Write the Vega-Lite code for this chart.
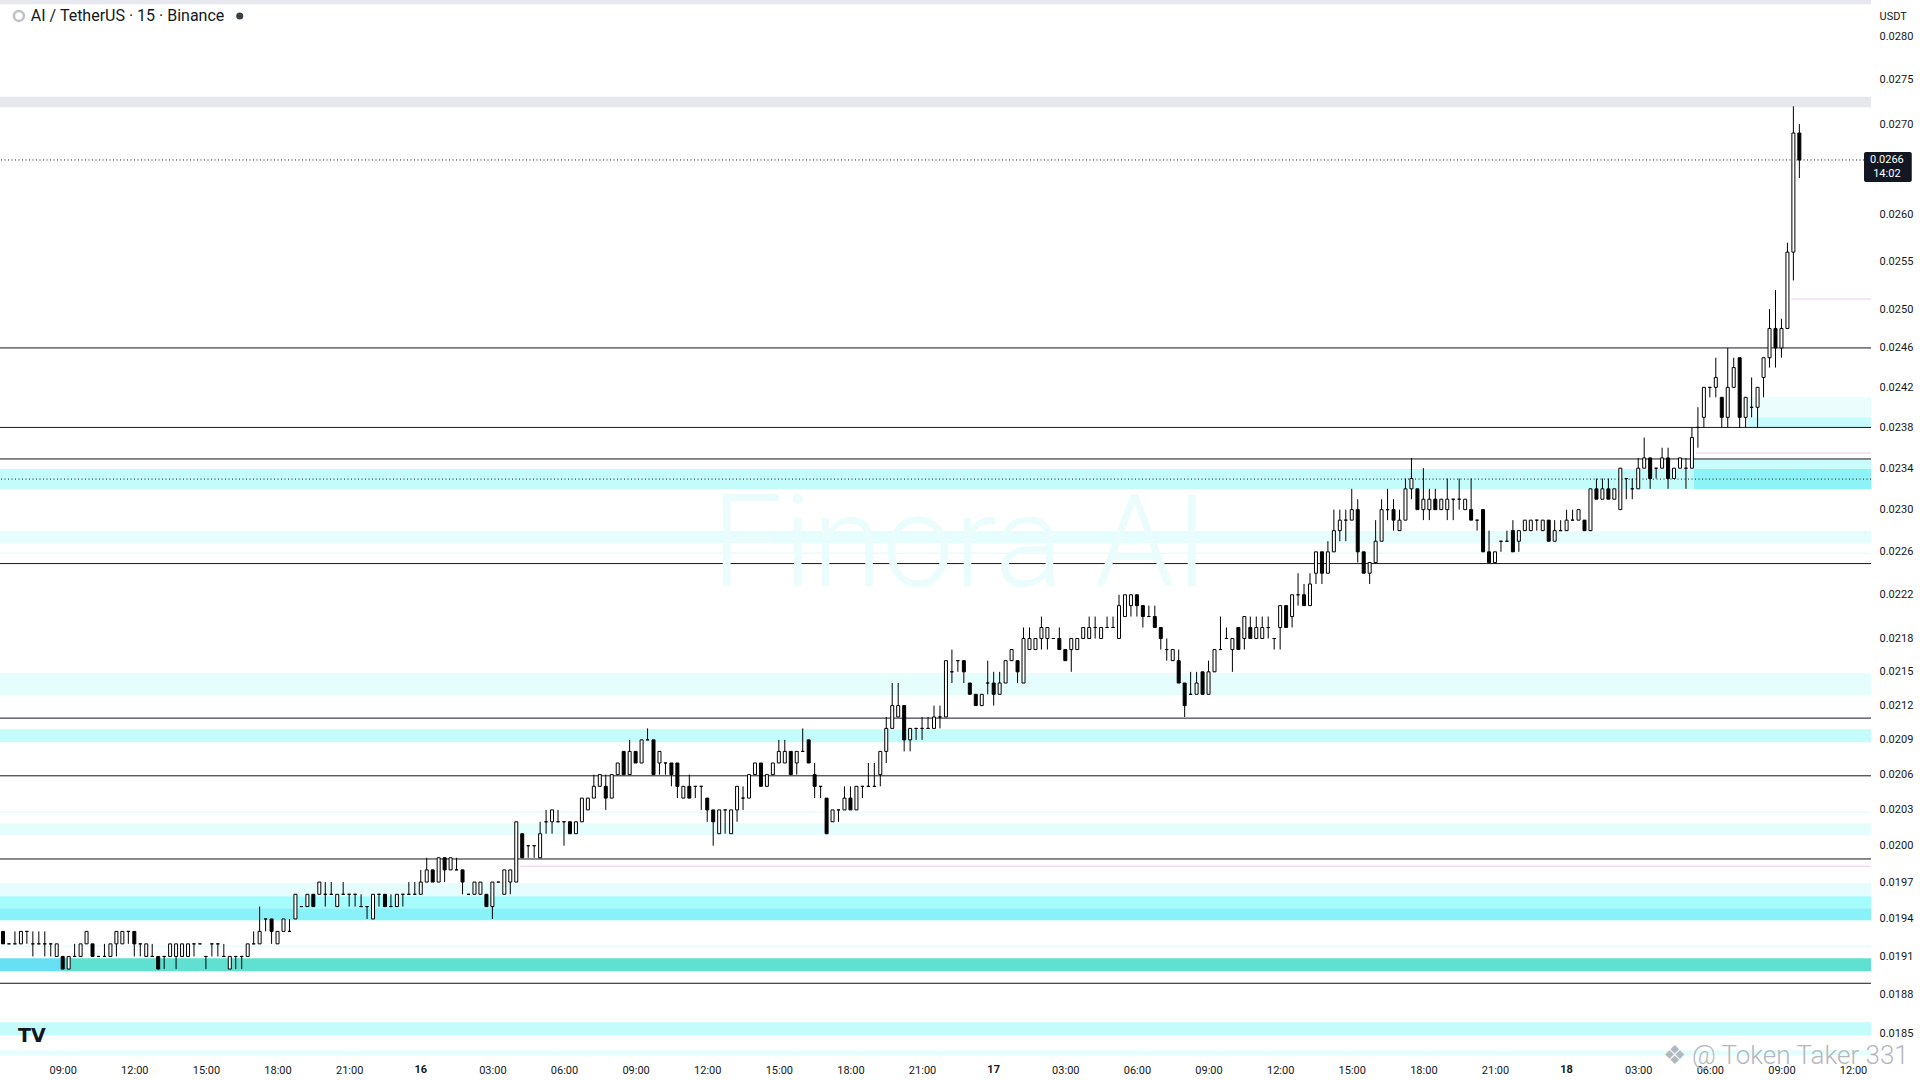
{
  "$schema": "https://vega.github.io/schema/vega-lite/v6.json",
  "width": 1871,
  "height": 1058,
  "autosize": {"type": "none"},
  "padding": {"left": 0, "top": 0, "right": 49, "bottom": 22},
  "background": "#ffffff",
  "config": {
    "view": {"stroke": null},
    "font": "Roboto",
    "axis": {"labelFont": "Roboto", "labelFontSize": 11, "labelColor": "#131722", "ticks": false, "domain": false, "grid": false}
  },
  "datasets": {
    "bands": [
      {"p1": 0.02838, "p2": 0.02843, "col": "#e7e8ed"},
      {"p1": 0.02719, "p2": 0.02731, "col": "#e7e8ed"},
      {"p1": 0.023198, "p2": 0.023392, "col": "#c4fcfc"},
      {"p1": 0.022682, "p2": 0.022796, "col": "#e6fdfd"},
      {"p1": 0.021292, "p2": 0.021488, "col": "#e6fdfd"},
      {"p1": 0.02088, "p2": 0.020993, "col": "#c4fcfc"},
      {"p1": 0.020088, "p2": 0.020188, "col": "#e6fdfd"},
      {"p1": 0.019585, "p2": 0.019691, "col": "#e6fdfd"},
      {"p1": 0.019487, "p2": 0.019585, "col": "#a6fcfc"},
      {"p1": 0.01939, "p2": 0.019487, "col": "#88f2f8"},
      {"p1": 0.018484, "p2": 0.018584, "col": "#c4fcfc"},
      {"p1": 0.018331, "p2": 0.018369, "col": "#e6fdfd"}
    ],
    "zones": [
      {"t1": "2025-06-15T00:00", "t2": "2025-06-15T08:57", "p1": 0.018983, "p2": 0.019086, "col": "#66e0f2"},
      {"t1": "2025-06-15T08:57", "t2": "2025-06-19T00:00", "p1": 0.018983, "p2": 0.019086, "col": "#5fe0d0"},
      {"t1": "2025-06-18T05:20", "t2": "2025-06-19T00:00", "p1": 0.023392, "p2": 0.02349, "col": "#cafcfc"},
      {"t1": "2025-06-18T05:20", "t2": "2025-06-19T00:00", "p1": 0.023198, "p2": 0.023392, "col": "#8ef3f6"},
      {"t1": "2025-06-18T07:35", "t2": "2025-06-19T00:00", "p1": 0.0238, "p2": 0.0239, "col": "#c8fcfc"},
      {"t1": "2025-06-18T07:35", "t2": "2025-06-19T00:00", "p1": 0.0239, "p2": 0.0241, "col": "#ebfdfd"}
    ],
    "faint": [
      {"p": 0.022588},
      {"p": 0.020281},
      {"p": 0.019182}
    ],
    "pink": [
      {"t1": "2025-06-16T04:10", "t2": "2025-06-19T00:00", "p": 0.01983},
      {"t1": "2025-06-18T05:25", "t2": "2025-06-19T00:00", "p": 0.023548},
      {"t1": "2025-06-18T09:25", "t2": "2025-06-19T00:00", "p": 0.025106}
    ],
    "levels": [
      {"p": 0.0246},
      {"p": 0.0238},
      {"p": 0.02349},
      {"p": 0.02249},
      {"p": 0.02109},
      {"p": 0.02059},
      {"p": 0.01989},
      {"p": 0.018888}
    ],
    "dotted": [
      {"p": 0.023294},
      {"p": 0.0266}
    ],
    "days": [
      {"t": "2025-06-16T00:00", "p": 0.01831, "lab": "16"},
      {"t": "2025-06-17T00:00", "p": 0.01831, "lab": "17"},
      {"t": "2025-06-18T00:00", "p": 0.01831, "lab": "18"}
    ],
    "candles": [
      {"t":"2025-06-15T06:30","o":0.0193,"h":0.0193,"l":0.0192,"c":0.0192},
      {"t":"2025-06-15T06:45","o":0.0192,"h":0.0192,"l":0.0192,"c":0.0192},
      {"t":"2025-06-15T07:00","o":0.0192,"h":0.0193,"l":0.0192,"c":0.0192},
      {"t":"2025-06-15T07:15","o":0.0192,"h":0.0193,"l":0.0192,"c":0.0193},
      {"t":"2025-06-15T07:30","o":0.0193,"h":0.0193,"l":0.0192,"c":0.0193},
      {"t":"2025-06-15T07:45","o":0.0192,"h":0.0193,"l":0.0191,"c":0.0192},
      {"t":"2025-06-15T08:00","o":0.0192,"h":0.0193,"l":0.0192,"c":0.0192},
      {"t":"2025-06-15T08:15","o":0.0192,"h":0.0193,"l":0.0191,"c":0.0192},
      {"t":"2025-06-15T08:30","o":0.0192,"h":0.0192,"l":0.0191,"c":0.0192},
      {"t":"2025-06-15T08:45","o":0.0191,"h":0.0192,"l":0.0191,"c":0.0192},
      {"t":"2025-06-15T09:00","o":0.0191,"h":0.0191,"l":0.0190,"c":0.0190},
      {"t":"2025-06-15T09:15","o":0.0190,"h":0.0191,"l":0.0190,"c":0.0191},
      {"t":"2025-06-15T09:30","o":0.0191,"h":0.0192,"l":0.0191,"c":0.0191},
      {"t":"2025-06-15T09:45","o":0.0191,"h":0.0192,"l":0.0191,"c":0.0192},
      {"t":"2025-06-15T10:00","o":0.0192,"h":0.0193,"l":0.0192,"c":0.0193},
      {"t":"2025-06-15T10:15","o":0.0192,"h":0.0192,"l":0.0191,"c":0.0191},
      {"t":"2025-06-15T10:30","o":0.0191,"h":0.0191,"l":0.0191,"c":0.0191},
      {"t":"2025-06-15T10:45","o":0.0191,"h":0.0192,"l":0.0191,"c":0.0191},
      {"t":"2025-06-15T11:00","o":0.0191,"h":0.0192,"l":0.0191,"c":0.0192},
      {"t":"2025-06-15T11:15","o":0.0192,"h":0.0193,"l":0.0191,"c":0.0193},
      {"t":"2025-06-15T11:30","o":0.0192,"h":0.0193,"l":0.0192,"c":0.0193},
      {"t":"2025-06-15T11:45","o":0.0193,"h":0.0193,"l":0.0192,"c":0.0193},
      {"t":"2025-06-15T12:00","o":0.0193,"h":0.0193,"l":0.0191,"c":0.0192},
      {"t":"2025-06-15T12:15","o":0.0192,"h":0.0192,"l":0.0191,"c":0.0192},
      {"t":"2025-06-15T12:30","o":0.0191,"h":0.0192,"l":0.0191,"c":0.0192},
      {"t":"2025-06-15T12:45","o":0.0191,"h":0.0192,"l":0.0191,"c":0.0191},
      {"t":"2025-06-15T13:00","o":0.0191,"h":0.0191,"l":0.0190,"c":0.0190},
      {"t":"2025-06-15T13:15","o":0.0191,"h":0.0191,"l":0.0190,"c":0.0191},
      {"t":"2025-06-15T13:30","o":0.0191,"h":0.0192,"l":0.0191,"c":0.0192},
      {"t":"2025-06-15T13:45","o":0.0191,"h":0.0192,"l":0.0190,"c":0.0192},
      {"t":"2025-06-15T14:00","o":0.0191,"h":0.0192,"l":0.0191,"c":0.0192},
      {"t":"2025-06-15T14:15","o":0.0191,"h":0.0192,"l":0.0191,"c":0.0192},
      {"t":"2025-06-15T14:30","o":0.0192,"h":0.0192,"l":0.0191,"c":0.0192},
      {"t":"2025-06-15T14:45","o":0.0192,"h":0.0192,"l":0.0192,"c":0.0192},
      {"t":"2025-06-15T15:00","o":0.0191,"h":0.0191,"l":0.0190,"c":0.0191},
      {"t":"2025-06-15T15:15","o":0.0192,"h":0.0192,"l":0.0191,"c":0.0192},
      {"t":"2025-06-15T15:30","o":0.0192,"h":0.0192,"l":0.0191,"c":0.0192},
      {"t":"2025-06-15T15:45","o":0.0191,"h":0.0192,"l":0.0191,"c":0.0191},
      {"t":"2025-06-15T16:00","o":0.0190,"h":0.0191,"l":0.0190,"c":0.0191},
      {"t":"2025-06-15T16:15","o":0.0191,"h":0.0191,"l":0.0190,"c":0.0191},
      {"t":"2025-06-15T16:30","o":0.0191,"h":0.0191,"l":0.0190,"c":0.0191},
      {"t":"2025-06-15T16:45","o":0.0191,"h":0.0192,"l":0.0191,"c":0.0192},
      {"t":"2025-06-15T17:00","o":0.0192,"h":0.0193,"l":0.0192,"c":0.0192},
      {"t":"2025-06-15T17:15","o":0.0192,"h":0.0195,"l":0.0192,"c":0.0193},
      {"t":"2025-06-15T17:30","o":0.0194,"h":0.0194,"l":0.0193,"c":0.0194},
      {"t":"2025-06-15T17:45","o":0.0194,"h":0.0194,"l":0.0192,"c":0.0193},
      {"t":"2025-06-15T18:00","o":0.0192,"h":0.0193,"l":0.0192,"c":0.0193},
      {"t":"2025-06-15T18:15","o":0.0193,"h":0.0194,"l":0.0193,"c":0.0194},
      {"t":"2025-06-15T18:30","o":0.0193,"h":0.0194,"l":0.0193,"c":0.0193},
      {"t":"2025-06-15T18:45","o":0.0194,"h":0.0196,"l":0.0194,"c":0.0196},
      {"t":"2025-06-15T19:00","o":0.0195,"h":0.0195,"l":0.0195,"c":0.0195},
      {"t":"2025-06-15T19:15","o":0.0195,"h":0.0196,"l":0.0195,"c":0.0196},
      {"t":"2025-06-15T19:30","o":0.0196,"h":0.0196,"l":0.0195,"c":0.0195},
      {"t":"2025-06-15T19:45","o":0.0196,"h":0.0197,"l":0.0196,"c":0.0197},
      {"t":"2025-06-15T20:00","o":0.0196,"h":0.0197,"l":0.0195,"c":0.0196},
      {"t":"2025-06-15T20:15","o":0.0196,"h":0.0197,"l":0.0196,"c":0.0196},
      {"t":"2025-06-15T20:30","o":0.0195,"h":0.0196,"l":0.0195,"c":0.0196},
      {"t":"2025-06-15T20:45","o":0.0196,"h":0.0197,"l":0.0196,"c":0.0196},
      {"t":"2025-06-15T21:00","o":0.0196,"h":0.0196,"l":0.0195,"c":0.0196},
      {"t":"2025-06-15T21:15","o":0.0196,"h":0.0196,"l":0.0195,"c":0.0196},
      {"t":"2025-06-15T21:30","o":0.0195,"h":0.0196,"l":0.0195,"c":0.0195},
      {"t":"2025-06-15T21:45","o":0.0195,"h":0.0195,"l":0.0194,"c":0.0195},
      {"t":"2025-06-15T22:00","o":0.0194,"h":0.0196,"l":0.0194,"c":0.0196},
      {"t":"2025-06-15T22:15","o":0.0196,"h":0.0196,"l":0.0195,"c":0.0196},
      {"t":"2025-06-15T22:30","o":0.0196,"h":0.0196,"l":0.0195,"c":0.0195},
      {"t":"2025-06-15T22:45","o":0.0195,"h":0.0196,"l":0.0195,"c":0.0195},
      {"t":"2025-06-15T23:00","o":0.0195,"h":0.0196,"l":0.0195,"c":0.0196},
      {"t":"2025-06-15T23:15","o":0.0196,"h":0.0196,"l":0.0195,"c":0.0196},
      {"t":"2025-06-15T23:30","o":0.0196,"h":0.0197,"l":0.0196,"c":0.0196},
      {"t":"2025-06-15T23:45","o":0.0196,"h":0.0197,"l":0.0196,"c":0.0196},
      {"t":"2025-06-16T00:00","o":0.0196,"h":0.0198,"l":0.0196,"c":0.0197},
      {"t":"2025-06-16T00:15","o":0.0197,"h":0.0199,"l":0.0197,"c":0.0198},
      {"t":"2025-06-16T00:30","o":0.0198,"h":0.0198,"l":0.0197,"c":0.0197},
      {"t":"2025-06-16T00:45","o":0.0197,"h":0.0199,"l":0.0197,"c":0.0199},
      {"t":"2025-06-16T01:00","o":0.0199,"h":0.0199,"l":0.0197,"c":0.0198},
      {"t":"2025-06-16T01:15","o":0.0198,"h":0.0199,"l":0.0198,"c":0.0199},
      {"t":"2025-06-16T01:30","o":0.0198,"h":0.0199,"l":0.0198,"c":0.0198},
      {"t":"2025-06-16T01:45","o":0.0198,"h":0.0198,"l":0.0196,"c":0.0197},
      {"t":"2025-06-16T02:00","o":0.0196,"h":0.0196,"l":0.0196,"c":0.0196},
      {"t":"2025-06-16T02:15","o":0.0196,"h":0.0197,"l":0.0196,"c":0.0197},
      {"t":"2025-06-16T02:30","o":0.0196,"h":0.0197,"l":0.0196,"c":0.0197},
      {"t":"2025-06-16T02:45","o":0.0196,"h":0.0196,"l":0.0195,"c":0.0195},
      {"t":"2025-06-16T03:00","o":0.0195,"h":0.0197,"l":0.0194,"c":0.0197},
      {"t":"2025-06-16T03:15","o":0.0197,"h":0.0197,"l":0.0197,"c":0.0197},
      {"t":"2025-06-16T03:30","o":0.0196,"h":0.0198,"l":0.0196,"c":0.0198},
      {"t":"2025-06-16T03:45","o":0.0197,"h":0.0198,"l":0.0196,"c":0.0198},
      {"t":"2025-06-16T04:00","o":0.0197,"h":0.0202,"l":0.0197,"c":0.0202},
      {"t":"2025-06-16T04:15","o":0.0201,"h":0.0201,"l":0.0199,"c":0.0199},
      {"t":"2025-06-16T04:30","o":0.0200,"h":0.0200,"l":0.0199,"c":0.0200},
      {"t":"2025-06-16T04:45","o":0.0200,"h":0.0200,"l":0.0199,"c":0.0200},
      {"t":"2025-06-16T05:00","o":0.0199,"h":0.0202,"l":0.0199,"c":0.0201},
      {"t":"2025-06-16T05:15","o":0.0202,"h":0.0203,"l":0.0201,"c":0.0202},
      {"t":"2025-06-16T05:30","o":0.0202,"h":0.0203,"l":0.0201,"c":0.0203},
      {"t":"2025-06-16T05:45","o":0.0202,"h":0.0203,"l":0.0202,"c":0.0202},
      {"t":"2025-06-16T06:00","o":0.0202,"h":0.0202,"l":0.0200,"c":0.0202},
      {"t":"2025-06-16T06:15","o":0.0202,"h":0.0202,"l":0.0201,"c":0.0201},
      {"t":"2025-06-16T06:30","o":0.0201,"h":0.0202,"l":0.0201,"c":0.0202},
      {"t":"2025-06-16T06:45","o":0.0202,"h":0.0204,"l":0.0202,"c":0.0204},
      {"t":"2025-06-16T07:00","o":0.0203,"h":0.0204,"l":0.0203,"c":0.0204},
      {"t":"2025-06-16T07:15","o":0.0204,"h":0.0206,"l":0.0204,"c":0.0205},
      {"t":"2025-06-16T07:30","o":0.0205,"h":0.0206,"l":0.0205,"c":0.0206},
      {"t":"2025-06-16T07:45","o":0.0205,"h":0.0206,"l":0.0203,"c":0.0204},
      {"t":"2025-06-16T08:00","o":0.0204,"h":0.0206,"l":0.0204,"c":0.0206},
      {"t":"2025-06-16T08:15","o":0.0206,"h":0.0207,"l":0.0206,"c":0.0207},
      {"t":"2025-06-16T08:30","o":0.0208,"h":0.0208,"l":0.0206,"c":0.0206},
      {"t":"2025-06-16T08:45","o":0.0206,"h":0.0209,"l":0.0206,"c":0.0208},
      {"t":"2025-06-16T09:00","o":0.0208,"h":0.0208,"l":0.0207,"c":0.0207},
      {"t":"2025-06-16T09:15","o":0.0207,"h":0.0209,"l":0.0207,"c":0.0209},
      {"t":"2025-06-16T09:30","o":0.0209,"h":0.0210,"l":0.0209,"c":0.0209},
      {"t":"2025-06-16T09:45","o":0.0209,"h":0.0209,"l":0.0206,"c":0.0206},
      {"t":"2025-06-16T10:00","o":0.0207,"h":0.0208,"l":0.0206,"c":0.0208},
      {"t":"2025-06-16T10:15","o":0.0207,"h":0.0207,"l":0.0206,"c":0.0207},
      {"t":"2025-06-16T10:30","o":0.0207,"h":0.0207,"l":0.0205,"c":0.0206},
      {"t":"2025-06-16T10:45","o":0.0207,"h":0.0207,"l":0.0204,"c":0.0205},
      {"t":"2025-06-16T11:00","o":0.0204,"h":0.0205,"l":0.0204,"c":0.0205},
      {"t":"2025-06-16T11:15","o":0.0205,"h":0.0206,"l":0.0204,"c":0.0204},
      {"t":"2025-06-16T11:30","o":0.0205,"h":0.0205,"l":0.0204,"c":0.0205},
      {"t":"2025-06-16T11:45","o":0.0205,"h":0.0205,"l":0.0203,"c":0.0205},
      {"t":"2025-06-16T12:00","o":0.0204,"h":0.0204,"l":0.0202,"c":0.0203},
      {"t":"2025-06-16T12:15","o":0.0203,"h":0.0203,"l":0.0200,"c":0.0202},
      {"t":"2025-06-16T12:30","o":0.0201,"h":0.0203,"l":0.0201,"c":0.0203},
      {"t":"2025-06-16T12:45","o":0.0203,"h":0.0203,"l":0.0201,"c":0.0203},
      {"t":"2025-06-16T13:00","o":0.0201,"h":0.0203,"l":0.0201,"c":0.0203},
      {"t":"2025-06-16T13:15","o":0.0203,"h":0.0205,"l":0.0202,"c":0.0205},
      {"t":"2025-06-16T13:30","o":0.0204,"h":0.0205,"l":0.0203,"c":0.0204},
      {"t":"2025-06-16T13:45","o":0.0204,"h":0.0206,"l":0.0204,"c":0.0206},
      {"t":"2025-06-16T14:00","o":0.0206,"h":0.0207,"l":0.0206,"c":0.0207},
      {"t":"2025-06-16T14:15","o":0.0207,"h":0.0207,"l":0.0205,"c":0.0205},
      {"t":"2025-06-16T14:30","o":0.0205,"h":0.0206,"l":0.0205,"c":0.0206},
      {"t":"2025-06-16T14:45","o":0.0206,"h":0.0207,"l":0.0206,"c":0.0207},
      {"t":"2025-06-16T15:00","o":0.0207,"h":0.0209,"l":0.0207,"c":0.0208},
      {"t":"2025-06-16T15:15","o":0.0207,"h":0.0209,"l":0.0207,"c":0.0208},
      {"t":"2025-06-16T15:30","o":0.0208,"h":0.0208,"l":0.0206,"c":0.0206},
      {"t":"2025-06-16T15:45","o":0.0207,"h":0.0208,"l":0.0206,"c":0.0208},
      {"t":"2025-06-16T16:00","o":0.0208,"h":0.0210,"l":0.0208,"c":0.0208},
      {"t":"2025-06-16T16:15","o":0.0209,"h":0.0209,"l":0.0207,"c":0.0207},
      {"t":"2025-06-16T16:30","o":0.0206,"h":0.0207,"l":0.0204,"c":0.0205},
      {"t":"2025-06-16T16:45","o":0.0205,"h":0.0205,"l":0.0204,"c":0.0205},
      {"t":"2025-06-16T17:00","o":0.0204,"h":0.0204,"l":0.0201,"c":0.0201},
      {"t":"2025-06-16T17:15","o":0.0202,"h":0.0203,"l":0.0202,"c":0.0203},
      {"t":"2025-06-16T17:30","o":0.0203,"h":0.0203,"l":0.0202,"c":0.0203},
      {"t":"2025-06-16T17:45","o":0.0203,"h":0.0205,"l":0.0203,"c":0.0204},
      {"t":"2025-06-16T18:00","o":0.0204,"h":0.0205,"l":0.0203,"c":0.0203},
      {"t":"2025-06-16T18:15","o":0.0203,"h":0.0205,"l":0.0203,"c":0.0205},
      {"t":"2025-06-16T18:30","o":0.0205,"h":0.0205,"l":0.0204,"c":0.0205},
      {"t":"2025-06-16T18:45","o":0.0205,"h":0.0207,"l":0.0205,"c":0.0205},
      {"t":"2025-06-16T19:00","o":0.0205,"h":0.0207,"l":0.0205,"c":0.0205},
      {"t":"2025-06-16T19:15","o":0.0206,"h":0.0208,"l":0.0205,"c":0.0208},
      {"t":"2025-06-16T19:30","o":0.0208,"h":0.0211,"l":0.0207,"c":0.0210},
      {"t":"2025-06-16T19:45","o":0.0210,"h":0.0214,"l":0.0210,"c":0.0212},
      {"t":"2025-06-16T20:00","o":0.0211,"h":0.0214,"l":0.0211,"c":0.0212},
      {"t":"2025-06-16T20:15","o":0.0212,"h":0.0212,"l":0.0208,"c":0.0209},
      {"t":"2025-06-16T20:30","o":0.0209,"h":0.0210,"l":0.0208,"c":0.0210},
      {"t":"2025-06-16T20:45","o":0.0210,"h":0.0210,"l":0.0209,"c":0.0210},
      {"t":"2025-06-16T21:00","o":0.0210,"h":0.0211,"l":0.0209,"c":0.0210},
      {"t":"2025-06-16T21:15","o":0.0210,"h":0.0211,"l":0.0210,"c":0.0210},
      {"t":"2025-06-16T21:30","o":0.0210,"h":0.0212,"l":0.0210,"c":0.0211},
      {"t":"2025-06-16T21:45","o":0.0211,"h":0.0212,"l":0.0210,"c":0.0211},
      {"t":"2025-06-16T22:00","o":0.0211,"h":0.0216,"l":0.0211,"c":0.0216},
      {"t":"2025-06-16T22:15","o":0.0215,"h":0.0217,"l":0.0214,"c":0.0215},
      {"t":"2025-06-16T22:30","o":0.0216,"h":0.0216,"l":0.0215,"c":0.0216},
      {"t":"2025-06-16T22:45","o":0.0216,"h":0.0216,"l":0.0214,"c":0.0215},
      {"t":"2025-06-16T23:00","o":0.0214,"h":0.0214,"l":0.0213,"c":0.0213},
      {"t":"2025-06-16T23:15","o":0.0213,"h":0.0213,"l":0.0212,"c":0.0212},
      {"t":"2025-06-16T23:30","o":0.0212,"h":0.0213,"l":0.0212,"c":0.0213},
      {"t":"2025-06-16T23:45","o":0.0214,"h":0.0216,"l":0.0213,"c":0.0214},
      {"t":"2025-06-17T00:00","o":0.0214,"h":0.0215,"l":0.0212,"c":0.0213},
      {"t":"2025-06-17T00:15","o":0.0213,"h":0.0215,"l":0.0213,"c":0.0214},
      {"t":"2025-06-17T00:30","o":0.0214,"h":0.0216,"l":0.0214,"c":0.0216},
      {"t":"2025-06-17T00:45","o":0.0216,"h":0.0217,"l":0.0216,"c":0.0217},
      {"t":"2025-06-17T01:00","o":0.0216,"h":0.0216,"l":0.0214,"c":0.0215},
      {"t":"2025-06-17T01:15","o":0.0214,"h":0.0219,"l":0.0214,"c":0.0218},
      {"t":"2025-06-17T01:30","o":0.0217,"h":0.0219,"l":0.0217,"c":0.0218},
      {"t":"2025-06-17T01:45","o":0.0217,"h":0.0218,"l":0.0217,"c":0.0218},
      {"t":"2025-06-17T02:00","o":0.0218,"h":0.0220,"l":0.0217,"c":0.0219},
      {"t":"2025-06-17T02:15","o":0.0218,"h":0.0219,"l":0.0217,"c":0.0219},
      {"t":"2025-06-17T02:30","o":0.0218,"h":0.0218,"l":0.0218,"c":0.0218},
      {"t":"2025-06-17T02:45","o":0.0218,"h":0.0219,"l":0.0217,"c":0.0217},
      {"t":"2025-06-17T03:00","o":0.0217,"h":0.0217,"l":0.0216,"c":0.0216},
      {"t":"2025-06-17T03:15","o":0.0217,"h":0.0218,"l":0.0215,"c":0.0218},
      {"t":"2025-06-17T03:30","o":0.0217,"h":0.0218,"l":0.0217,"c":0.0218},
      {"t":"2025-06-17T03:45","o":0.0218,"h":0.0219,"l":0.0218,"c":0.0219},
      {"t":"2025-06-17T04:00","o":0.0218,"h":0.0220,"l":0.0218,"c":0.0219},
      {"t":"2025-06-17T04:15","o":0.0219,"h":0.0220,"l":0.0218,"c":0.0219},
      {"t":"2025-06-17T04:30","o":0.0218,"h":0.0219,"l":0.0218,"c":0.0219},
      {"t":"2025-06-17T04:45","o":0.0219,"h":0.0220,"l":0.0219,"c":0.0219},
      {"t":"2025-06-17T05:00","o":0.0219,"h":0.0220,"l":0.0219,"c":0.0219},
      {"t":"2025-06-17T05:15","o":0.0218,"h":0.0222,"l":0.0218,"c":0.0221},
      {"t":"2025-06-17T05:30","o":0.0220,"h":0.0222,"l":0.0220,"c":0.0222},
      {"t":"2025-06-17T05:45","o":0.0221,"h":0.0222,"l":0.0220,"c":0.0222},
      {"t":"2025-06-17T06:00","o":0.0222,"h":0.0222,"l":0.0220,"c":0.0221},
      {"t":"2025-06-17T06:15","o":0.0221,"h":0.0221,"l":0.0219,"c":0.0220},
      {"t":"2025-06-17T06:30","o":0.0220,"h":0.0221,"l":0.0220,"c":0.0220},
      {"t":"2025-06-17T06:45","o":0.0220,"h":0.0221,"l":0.0219,"c":0.0219},
      {"t":"2025-06-17T07:00","o":0.0219,"h":0.0219,"l":0.0217,"c":0.0218},
      {"t":"2025-06-17T07:15","o":0.0217,"h":0.0218,"l":0.0216,"c":0.0217},
      {"t":"2025-06-17T07:30","o":0.0216,"h":0.0217,"l":0.0216,"c":0.0217},
      {"t":"2025-06-17T07:45","o":0.0216,"h":0.0217,"l":0.0214,"c":0.0214},
      {"t":"2025-06-17T08:00","o":0.0214,"h":0.0214,"l":0.0211,"c":0.0212},
      {"t":"2025-06-17T08:15","o":0.0213,"h":0.0215,"l":0.0213,"c":0.0213},
      {"t":"2025-06-17T08:30","o":0.0213,"h":0.0215,"l":0.0213,"c":0.0214},
      {"t":"2025-06-17T08:45","o":0.0215,"h":0.0215,"l":0.0213,"c":0.0213},
      {"t":"2025-06-17T09:00","o":0.0213,"h":0.0216,"l":0.0213,"c":0.0215},
      {"t":"2025-06-17T09:15","o":0.0215,"h":0.0217,"l":0.0215,"c":0.0217},
      {"t":"2025-06-17T09:30","o":0.0217,"h":0.0220,"l":0.0217,"c":0.0217},
      {"t":"2025-06-17T09:45","o":0.0218,"h":0.0219,"l":0.0218,"c":0.0218},
      {"t":"2025-06-17T10:00","o":0.0217,"h":0.0218,"l":0.0215,"c":0.0218},
      {"t":"2025-06-17T10:15","o":0.0219,"h":0.0219,"l":0.0217,"c":0.0217},
      {"t":"2025-06-17T10:30","o":0.0218,"h":0.0220,"l":0.0217,"c":0.0220},
      {"t":"2025-06-17T10:45","o":0.0219,"h":0.0220,"l":0.0218,"c":0.0218},
      {"t":"2025-06-17T11:00","o":0.0218,"h":0.0220,"l":0.0218,"c":0.0219},
      {"t":"2025-06-17T11:15","o":0.0218,"h":0.0220,"l":0.0218,"c":0.0219},
      {"t":"2025-06-17T11:30","o":0.0219,"h":0.0220,"l":0.0218,"c":0.0219},
      {"t":"2025-06-17T11:45","o":0.0218,"h":0.0218,"l":0.0217,"c":0.0218},
      {"t":"2025-06-17T12:00","o":0.0219,"h":0.0221,"l":0.0217,"c":0.0221},
      {"t":"2025-06-17T12:15","o":0.0221,"h":0.0221,"l":0.0219,"c":0.0219},
      {"t":"2025-06-17T12:30","o":0.0220,"h":0.0222,"l":0.0219,"c":0.0222},
      {"t":"2025-06-17T12:45","o":0.0222,"h":0.0224,"l":0.0221,"c":0.0222},
      {"t":"2025-06-17T13:00","o":0.0222,"h":0.0223,"l":0.0221,"c":0.0221},
      {"t":"2025-06-17T13:15","o":0.0221,"h":0.0224,"l":0.0221,"c":0.0223},
      {"t":"2025-06-17T13:30","o":0.0224,"h":0.0226,"l":0.0223,"c":0.0226},
      {"t":"2025-06-17T13:45","o":0.0226,"h":0.0226,"l":0.0223,"c":0.0224},
      {"t":"2025-06-17T14:00","o":0.0224,"h":0.0227,"l":0.0224,"c":0.0226},
      {"t":"2025-06-17T14:15","o":0.0226,"h":0.0230,"l":0.0226,"c":0.0228},
      {"t":"2025-06-17T14:30","o":0.0228,"h":0.0230,"l":0.0227,"c":0.0229},
      {"t":"2025-06-17T14:45","o":0.0229,"h":0.0230,"l":0.0227,"c":0.0229},
      {"t":"2025-06-17T15:00","o":0.0229,"h":0.0232,"l":0.0229,"c":0.0230},
      {"t":"2025-06-17T15:15","o":0.0230,"h":0.0231,"l":0.0225,"c":0.0226},
      {"t":"2025-06-17T15:30","o":0.0226,"h":0.0226,"l":0.0224,"c":0.0224},
      {"t":"2025-06-17T15:45","o":0.0224,"h":0.0225,"l":0.0223,"c":0.0225},
      {"t":"2025-06-17T16:00","o":0.0225,"h":0.0229,"l":0.0225,"c":0.0227},
      {"t":"2025-06-17T16:15","o":0.0227,"h":0.0231,"l":0.0227,"c":0.0230},
      {"t":"2025-06-17T16:30","o":0.0230,"h":0.0232,"l":0.0229,"c":0.0230},
      {"t":"2025-06-17T16:45","o":0.0230,"h":0.0231,"l":0.0228,"c":0.0229},
      {"t":"2025-06-17T17:00","o":0.0228,"h":0.0230,"l":0.0228,"c":0.0229},
      {"t":"2025-06-17T17:15","o":0.0229,"h":0.0233,"l":0.0229,"c":0.0232},
      {"t":"2025-06-17T17:30","o":0.0232,"h":0.0235,"l":0.0231,"c":0.0233},
      {"t":"2025-06-17T17:45","o":0.0232,"h":0.0232,"l":0.0230,"c":0.0230},
      {"t":"2025-06-17T18:00","o":0.0230,"h":0.0234,"l":0.0229,"c":0.0231},
      {"t":"2025-06-17T18:15","o":0.0230,"h":0.0232,"l":0.0229,"c":0.0231},
      {"t":"2025-06-17T18:30","o":0.0231,"h":0.0232,"l":0.0230,"c":0.0230},
      {"t":"2025-06-17T18:45","o":0.0230,"h":0.0231,"l":0.0230,"c":0.0231},
      {"t":"2025-06-17T19:00","o":0.0230,"h":0.0233,"l":0.0229,"c":0.0231},
      {"t":"2025-06-17T19:15","o":0.0231,"h":0.0231,"l":0.0229,"c":0.0231},
      {"t":"2025-06-17T19:30","o":0.0231,"h":0.0233,"l":0.0230,"c":0.0231},
      {"t":"2025-06-17T19:45","o":0.0230,"h":0.0231,"l":0.0230,"c":0.0231},
      {"t":"2025-06-17T20:00","o":0.0230,"h":0.0233,"l":0.0229,"c":0.0229},
      {"t":"2025-06-17T20:15","o":0.0229,"h":0.0229,"l":0.0228,"c":0.0229},
      {"t":"2025-06-17T20:30","o":0.0230,"h":0.0230,"l":0.0226,"c":0.0226},
      {"t":"2025-06-17T20:45","o":0.0226,"h":0.0228,"l":0.0225,"c":0.0225},
      {"t":"2025-06-17T21:00","o":0.0225,"h":0.0226,"l":0.0225,"c":0.0226},
      {"t":"2025-06-17T21:15","o":0.0227,"h":0.0227,"l":0.0226,"c":0.0227},
      {"t":"2025-06-17T21:30","o":0.0227,"h":0.0228,"l":0.0227,"c":0.0227},
      {"t":"2025-06-17T21:45","o":0.0228,"h":0.0229,"l":0.0226,"c":0.0226},
      {"t":"2025-06-17T22:00","o":0.0227,"h":0.0228,"l":0.0226,"c":0.0228},
      {"t":"2025-06-17T22:15","o":0.0228,"h":0.0229,"l":0.0228,"c":0.0229},
      {"t":"2025-06-17T22:30","o":0.0228,"h":0.0229,"l":0.0228,"c":0.0229},
      {"t":"2025-06-17T22:45","o":0.0229,"h":0.0229,"l":0.0228,"c":0.0229},
      {"t":"2025-06-17T23:00","o":0.0228,"h":0.0229,"l":0.0228,"c":0.0229},
      {"t":"2025-06-17T23:15","o":0.0229,"h":0.0229,"l":0.0227,"c":0.0227},
      {"t":"2025-06-17T23:30","o":0.0227,"h":0.0229,"l":0.0227,"c":0.0228},
      {"t":"2025-06-17T23:45","o":0.0228,"h":0.0229,"l":0.0228,"c":0.0228},
      {"t":"2025-06-18T00:00","o":0.0228,"h":0.0230,"l":0.0228,"c":0.0229},
      {"t":"2025-06-18T00:15","o":0.0229,"h":0.0230,"l":0.0229,"c":0.0229},
      {"t":"2025-06-18T00:30","o":0.0229,"h":0.0230,"l":0.0229,"c":0.0230},
      {"t":"2025-06-18T00:45","o":0.0229,"h":0.0229,"l":0.0228,"c":0.0228},
      {"t":"2025-06-18T01:00","o":0.0228,"h":0.0232,"l":0.0228,"c":0.0232},
      {"t":"2025-06-18T01:15","o":0.0232,"h":0.0233,"l":0.0231,"c":0.0231},
      {"t":"2025-06-18T01:30","o":0.0231,"h":0.0233,"l":0.0231,"c":0.0232},
      {"t":"2025-06-18T01:45","o":0.0232,"h":0.0233,"l":0.0231,"c":0.0231},
      {"t":"2025-06-18T02:00","o":0.0231,"h":0.0232,"l":0.0231,"c":0.0232},
      {"t":"2025-06-18T02:15","o":0.0230,"h":0.0234,"l":0.0230,"c":0.0234},
      {"t":"2025-06-18T02:30","o":0.0233,"h":0.0233,"l":0.0231,"c":0.0233},
      {"t":"2025-06-18T02:45","o":0.0232,"h":0.0233,"l":0.0231,"c":0.0232},
      {"t":"2025-06-18T03:00","o":0.0232,"h":0.0235,"l":0.0232,"c":0.0234},
      {"t":"2025-06-18T03:15","o":0.0234,"h":0.0237,"l":0.0234,"c":0.0235},
      {"t":"2025-06-18T03:30","o":0.0235,"h":0.0235,"l":0.0232,"c":0.0233},
      {"t":"2025-06-18T03:45","o":0.0234,"h":0.0234,"l":0.0233,"c":0.0234},
      {"t":"2025-06-18T04:00","o":0.0234,"h":0.0236,"l":0.0234,"c":0.0235},
      {"t":"2025-06-18T04:15","o":0.0235,"h":0.0236,"l":0.0232,"c":0.0233},
      {"t":"2025-06-18T04:30","o":0.0233,"h":0.0234,"l":0.0233,"c":0.0234},
      {"t":"2025-06-18T04:45","o":0.0234,"h":0.0235,"l":0.0234,"c":0.0235},
      {"t":"2025-06-18T05:00","o":0.0234,"h":0.0235,"l":0.0232,"c":0.0234},
      {"t":"2025-06-18T05:15","o":0.0234,"h":0.0238,"l":0.0234,"c":0.0237},
      {"t":"2025-06-18T05:30","o":0.0238,"h":0.0240,"l":0.0236,"c":0.0238},
      {"t":"2025-06-18T05:45","o":0.0239,"h":0.0242,"l":0.0238,"c":0.0242},
      {"t":"2025-06-18T06:00","o":0.0242,"h":0.0242,"l":0.0241,"c":0.0242},
      {"t":"2025-06-18T06:15","o":0.0242,"h":0.0245,"l":0.0241,"c":0.0243},
      {"t":"2025-06-18T06:30","o":0.0241,"h":0.0241,"l":0.0238,"c":0.0239},
      {"t":"2025-06-18T06:45","o":0.0239,"h":0.0246,"l":0.0238,"c":0.0242},
      {"t":"2025-06-18T07:00","o":0.0242,"h":0.0245,"l":0.0242,"c":0.0244},
      {"t":"2025-06-18T07:15","o":0.0245,"h":0.0245,"l":0.0238,"c":0.0239},
      {"t":"2025-06-18T07:30","o":0.0239,"h":0.0241,"l":0.0238,"c":0.0241},
      {"t":"2025-06-18T07:45","o":0.0240,"h":0.0243,"l":0.0239,"c":0.0240},
      {"t":"2025-06-18T08:00","o":0.0240,"h":0.0242,"l":0.0238,"c":0.0242},
      {"t":"2025-06-18T08:15","o":0.0243,"h":0.0245,"l":0.0241,"c":0.0245},
      {"t":"2025-06-18T08:30","o":0.0245,"h":0.0250,"l":0.0244,"c":0.0248},
      {"t":"2025-06-18T08:45","o":0.0248,"h":0.0252,"l":0.0244,"c":0.0246},
      {"t":"2025-06-18T09:00","o":0.0246,"h":0.0249,"l":0.0245,"c":0.0248},
      {"t":"2025-06-18T09:15","o":0.0248,"h":0.0257,"l":0.0248,"c":0.0256},
      {"t":"2025-06-18T09:30","o":0.0256,"h":0.0272,"l":0.0253,"c":0.0269},
      {"t":"2025-06-18T09:45","o":0.0269,"h":0.0270,"l":0.0264,"c":0.0266}
    ]
  },
  "layer": [
    {
      "data": {"name": "bands"},
      "mark": {"type": "rect", "clip": true},
      "encoding": {
        "y": {
          "field": "p1",
          "type": "quantitative",
          "scale": {"type": "log", "domain": [0.01831, 0.02843], "nice": false, "zero": false},
          "axis": {
            "orient": "right",
            "values": [0.0185, 0.0188, 0.0191, 0.0194, 0.0197, 0.02, 0.0203, 0.0206, 0.0209, 0.0212, 0.0215, 0.0218, 0.0222, 0.0226, 0.023, 0.0234, 0.0238, 0.0242, 0.0246, 0.025, 0.0255, 0.026, 0.027, 0.0275, 0.028],
            "format": ".4f",
            "labelPadding": 8,
            "title": "USDT",
            "titleAngle": 0,
            "titleX": 8,
            "titleY": 16,
            "titleAlign": "left",
            "titleBaseline": "middle",
            "titleFont": "Roboto",
            "titleFontSize": 11,
            "titleFontWeight": "normal",
            "titleColor": "#131722"
          }
        },
        "y2": {"field": "p2"},
        "color": {"field": "col", "type": "nominal", "scale": null}
      }
    },
    {
      "data": {"name": "zones"},
      "mark": {"type": "rect", "clip": true},
      "encoding": {
        "x": {
          "field": "t1",
          "type": "temporal",
          "scale": {
            "domain": [
              {"year": 2025, "month": 6, "date": 15, "hours": 6, "minutes": 35},
              {"year": 2025, "month": 6, "date": 18, "hours": 12, "minutes": 32, "seconds": 30}
            ]
          },
          "axis": {
            "orient": "bottom",
            "tickCount": 26,
            "labelExpr": "hours(datum.value) == 0 ? '' : timeFormat(datum.value, '%H:%M')",
            "labelPadding": 6,
            "title": null
          }
        },
        "x2": {"field": "t2"},
        "y": {"field": "p1", "type": "quantitative", "axis": {"orient": "right"}},
        "y2": {"field": "p2"},
        "color": {"field": "col", "type": "nominal", "scale": null}
      }
    },
    {
      "data": {"name": "faint"},
      "mark": {"type": "rule", "color": "#dff9f9", "strokeWidth": 1},
      "encoding": {"y": {"field": "p", "type": "quantitative", "axis": {"orient": "right"}}}
    },
    {
      "data": {"name": "pink"},
      "mark": {"type": "rule", "color": "#e6cdeb", "strokeWidth": 1, "clip": true},
      "encoding": {
        "x": {"field": "t1", "type": "temporal", "axis": {"orient": "bottom"}},
        "x2": {"field": "t2"},
        "y": {"field": "p", "type": "quantitative", "axis": {"orient": "right"}}
      }
    },
    {
      "data": {"name": "levels"},
      "mark": {"type": "rule", "color": "#131722", "strokeWidth": 1},
      "encoding": {"y": {"field": "p", "type": "quantitative", "axis": {"orient": "right"}}}
    },
    {
      "data": {"name": "dotted"},
      "mark": {"type": "rule", "color": "#131722", "strokeWidth": 1, "strokeDash": [1, 2.5]},
      "encoding": {"y": {"field": "p", "type": "quantitative", "axis": {"orient": "right"}}}
    },
    {
      "data": {"values": [{"t": "2025-06-16T22:35", "p": 0.02228, "txt": "Finora AI"}]},
      "mark": {"type": "text", "align": "center", "baseline": "alphabetic", "font": "Roboto", "fontSize": 128, "fontWeight": 300, "color": "#eafcfc"},
      "encoding": {
        "x": {"field": "t", "type": "temporal", "axis": {"orient": "bottom"}},
        "y": {"field": "p", "type": "quantitative", "axis": {"orient": "right"}},
        "text": {"field": "txt"}
      }
    },
    {
      "data": {"name": "candles"},
      "mark": {"type": "rule", "color": "#000000", "strokeWidth": 1},
      "encoding": {
        "x": {"field": "t", "type": "temporal", "axis": {"orient": "bottom"}},
        "y": {"field": "l", "type": "quantitative", "axis": {"orient": "right"}},
        "y2": {"field": "h"}
      }
    },
    {
      "data": {"name": "candles"},
      "mark": {"type": "bar", "width": 3, "stroke": "#000000", "strokeWidth": 1},
      "encoding": {
        "x": {"field": "t", "type": "temporal", "axis": {"orient": "bottom"}},
        "y": {"field": "o", "type": "quantitative", "axis": {"orient": "right"}},
        "y2": {"field": "c"},
        "fill": {"condition": {"test": "datum.c < datum.o", "value": "#000000"}, "value": "#ffffff"}
      }
    },
    {
      "data": {"values": [{"t1": "2025-06-18T12:27:30", "t2": "2025-06-18T14:27:30", "p1": 0.026357, "p2": 0.026688}]},
      "mark": {"type": "rect", "color": "#131722", "cornerRadius": 2},
      "encoding": {
        "x": {"field": "t1", "type": "temporal", "axis": {"orient": "bottom"}},
        "x2": {"field": "t2"},
        "y": {"field": "p1", "type": "quantitative", "axis": {"orient": "right"}},
        "y2": {"field": "p2"}
      }
    },
    {
      "data": {"values": [
        {"t": "2025-06-18T13:25", "p": 0.0266, "txt": "0.0266"},
        {"t": "2025-06-18T13:25", "p": 0.026446, "txt": "14:02"}
      ]},
      "mark": {"type": "text", "align": "center", "baseline": "middle", "font": "Roboto", "fontSize": 11, "color": "#ffffff"},
      "encoding": {
        "x": {"field": "t", "type": "temporal", "axis": {"orient": "bottom"}},
        "y": {"field": "p", "type": "quantitative", "axis": {"orient": "right"}},
        "text": {"field": "txt"}
      }
    },
    {
      "data": {"name": "days"},
      "mark": {"type": "text", "align": "center", "baseline": "top", "dy": 6, "font": "Roboto", "fontSize": 11, "fontWeight": "bold", "color": "#131722"},
      "encoding": {
        "x": {"field": "t", "type": "temporal", "axis": {"orient": "bottom"}},
        "y": {"field": "p", "type": "quantitative", "axis": {"orient": "right"}},
        "text": {"field": "lab"}
      }
    },
    {
      "data": {"values": [{"t": "2025-06-15T07:40", "p": 0.028242, "txt": "AI / TetherUS · 15 · Binance"}]},
      "mark": {"type": "text", "align": "left", "baseline": "middle", "font": "Roboto", "fontSize": 16, "color": "#131722"},
      "encoding": {
        "x": {"field": "t", "type": "temporal", "axis": {"orient": "bottom"}},
        "y": {"field": "p", "type": "quantitative", "axis": {"orient": "right"}},
        "text": {"field": "txt"}
      }
    },
    {
      "data": {"values": [{"t": "2025-06-15T07:10", "p": 0.028242}]},
      "mark": {"type": "point", "shape": "circle", "filled": false, "size": 100, "stroke": "#a3a6af", "strokeWidth": 2.5},
      "encoding": {
        "x": {"field": "t", "type": "temporal", "axis": {"orient": "bottom"}},
        "y": {"field": "p", "type": "quantitative", "axis": {"orient": "right"}}
      }
    },
    {
      "data": {"values": [{"t": "2025-06-15T16:25", "p": 0.028242}]},
      "mark": {"type": "point", "shape": "circle", "filled": true, "size": 50, "color": "#3c3f48", "opacity": 1},
      "encoding": {
        "x": {"field": "t", "type": "temporal", "axis": {"orient": "bottom"}},
        "y": {"field": "p", "type": "quantitative", "axis": {"orient": "right"}}
      }
    },
    {
      "data": {"values": [{"t": "2025-06-15T07:42:30", "p": 0.018477, "txt": "TV"}]},
      "mark": {"type": "text", "align": "center", "baseline": "middle", "font": "DejaVu Sans", "fontSize": 19, "fontWeight": "bold", "color": "#131722"},
      "encoding": {
        "x": {"field": "t", "type": "temporal", "axis": {"orient": "bottom"}},
        "y": {"field": "p", "type": "quantitative", "axis": {"orient": "right"}},
        "text": {"field": "txt"}
      }
    },
    {
      "data": {"values": [{"t": "2025-06-18T14:20", "p": 0.01831, "txt": "❖ @ Token Taker 331"}]},
      "mark": {"type": "text", "align": "right", "baseline": "middle", "dy": -2, "font": "Roboto", "fontSize": 26, "fontWeight": 300, "color": "#b4b7be"},
      "encoding": {
        "x": {"field": "t", "type": "temporal", "axis": {"orient": "bottom"}},
        "y": {"field": "p", "type": "quantitative", "axis": {"orient": "right"}},
        "text": {"field": "txt"}
      }
    }
  ]
}
